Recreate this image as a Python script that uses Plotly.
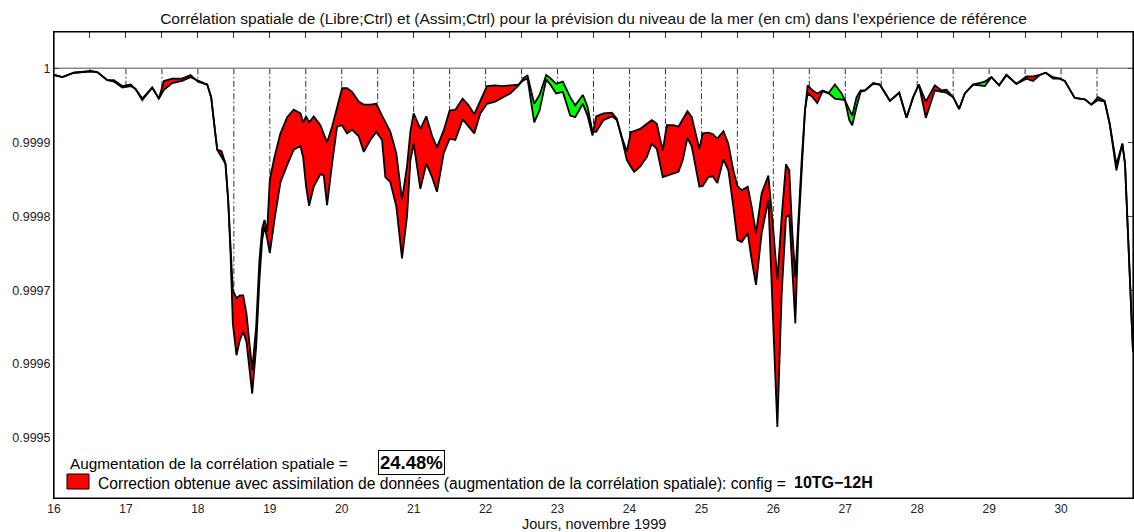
import numpy as np
import plotly.graph_objects as go

# Days of November 1999 (fractional) at which the correlations are sampled
jours = [
    16.000, 16.116, 16.278, 16.509, 16.602, 16.741, 16.833, 16.949, 17.065, 17.134,
    17.227, 17.366, 17.458, 17.528, 17.644, 17.782, 17.898, 18.000, 18.130, 18.185,
    18.231, 18.269, 18.329, 18.384, 18.421, 18.454, 18.486, 18.537, 18.583, 18.630,
    18.676, 18.755, 18.810, 18.856, 18.894, 18.926, 18.963, 19.000, 19.065, 19.148,
    19.241, 19.333, 19.426, 19.463, 19.505, 19.546, 19.611, 19.704, 19.750, 19.796,
    19.866, 19.935, 20.005, 20.074, 20.144, 20.236, 20.306, 20.398, 20.481, 20.560,
    20.606, 20.676, 20.759, 20.838, 20.907, 20.955, 21.000, 21.093, 21.176, 21.255,
    21.324, 21.417, 21.500, 21.579, 21.681, 21.764, 21.843, 21.926, 22.019, 22.134,
    22.227, 22.343, 22.458, 22.528, 22.583, 22.676, 22.750, 22.843, 22.907, 22.981,
    23.074, 23.176, 23.245, 23.352, 23.417, 23.486, 23.537, 23.639, 23.755, 23.824,
    23.894, 23.963, 24.019, 24.065, 24.148, 24.241, 24.310, 24.380, 24.463, 24.519,
    24.611, 24.681, 24.741, 24.806, 24.866, 24.972, 25.019, 25.097, 25.157, 25.222,
    25.306, 25.375, 25.444, 25.500, 25.560, 25.644, 25.699, 25.759, 25.838, 25.931,
    26.000, 26.056, 26.116, 26.176, 26.222, 26.264, 26.306, 26.347, 26.394, 26.440,
    26.477, 26.546, 26.611, 26.685, 26.764, 26.856, 26.949, 26.995, 27.056, 27.097,
    27.157, 27.213, 27.273, 27.389, 27.481, 27.620, 27.750, 27.852, 27.944, 28.023,
    28.120, 28.245, 28.338, 28.407, 28.500, 28.583, 28.662, 28.778, 28.940, 29.032,
    29.139, 29.241, 29.380, 29.519, 29.611, 29.704, 29.787, 29.889, 29.981, 30.051,
    30.190, 30.329, 30.421, 30.514, 30.606, 30.676, 30.769, 30.852, 30.889, 30.944,
    31.000,
]

# Spatial correlation of the free run with the control run (Libre;Ctrl)
corr_libre = [
    0.999991, 0.999988, 0.999994, 0.999996, 0.999995, 0.999984, 0.999982, 0.999974, 0.999976, 0.999972,
    0.999959, 0.999974, 0.999959, 0.999971, 0.999980, 0.999983, 0.999988, 0.999984, 0.999978, 0.999961,
    0.999921, 0.999890, 0.999880, 0.999871, 0.999822, 0.999750, 0.999655, 0.999612, 0.999632, 0.999644,
    0.999630, 0.999560, 0.999623, 0.999714, 0.999768, 0.999786, 0.999770, 0.999750, 0.999795, 0.999846,
    0.999869, 0.999890, 0.999895, 0.999880, 0.999840, 0.999814, 0.999840, 0.999857, 0.999855, 0.999815,
    0.999871, 0.999921, 0.999923, 0.999912, 0.999917, 0.999908, 0.999887, 0.999903, 0.999914, 0.999903,
    0.999853, 0.999846, 0.999813, 0.999743, 0.999799, 0.999876, 0.999898, 0.999837, 0.999871, 0.999853,
    0.999833, 0.999885, 0.999905, 0.999903, 0.999931, 0.999921, 0.999912, 0.999939, 0.999952, 0.999955,
    0.999960, 0.999966, 0.999977, 0.999987, 0.999990, 0.999952, 0.999964, 0.999991, 0.999986, 0.999979,
    0.999982, 0.999961, 0.999950, 0.999964, 0.999948, 0.999914, 0.999914, 0.999930, 0.999935, 0.999930,
    0.999905, 0.999876, 0.999867, 0.999860, 0.999867, 0.999880, 0.999898, 0.999891, 0.999853, 0.999855,
    0.999858, 0.999860, 0.999876, 0.999906, 0.999894, 0.999840, 0.999841, 0.999853, 0.999854, 0.999845,
    0.999877, 0.999862, 0.999813, 0.999768, 0.999765, 0.999777, 0.999741, 0.999707, 0.999777, 0.999822,
    0.999650, 0.999515, 0.999695, 0.999799, 0.999801, 0.999723, 0.999655, 0.999777, 0.999871, 0.999943,
    0.999966, 0.999961, 0.999953, 0.999969, 0.999966, 0.999978, 0.999966, 0.999957, 0.999943, 0.999936,
    0.999961, 0.999970, 0.999970, 0.999980, 0.999978, 0.999956, 0.999967, 0.999933, 0.999961, 0.999978,
    0.999933, 0.999970, 0.999968, 0.999967, 0.999961, 0.999945, 0.999966, 0.999978, 0.999982, 0.999988,
    0.999977, 0.999991, 0.999979, 0.999986, 0.999983, 0.999991, 0.999994, 0.999986, 0.999986, 0.999983,
    0.999960, 0.999958, 0.999951, 0.999957, 0.999955, 0.999925, 0.999862, 0.999898, 0.999871, 0.999736,
    0.999616,
]

# Spatial correlation of the assimilation run with the control run (Assim;Ctrl)
corr_assim = [
    0.999991, 0.999988, 0.999994, 0.999996, 0.999995, 0.999984, 0.999984, 0.999976, 0.999978, 0.999972,
    0.999957, 0.999974, 0.999959, 0.999983, 0.999986, 0.999986, 0.999991, 0.999982, 0.999978, 0.999961,
    0.999921, 0.999890, 0.999888, 0.999871, 0.999822, 0.999750, 0.999700, 0.999689, 0.999693, 0.999693,
    0.999668, 0.999592, 0.999650, 0.999741, 0.999783, 0.999795, 0.999779, 0.999849, 0.999880, 0.999912,
    0.999934, 0.999944, 0.999939, 0.999927, 0.999935, 0.999927, 0.999935, 0.999923, 0.999912, 0.999900,
    0.999921, 0.999948, 0.999973, 0.999973, 0.999968, 0.999955, 0.999951, 0.999951, 0.999952, 0.999936,
    0.999927, 0.999914, 0.999885, 0.999822, 0.999867, 0.999915, 0.999939, 0.999918, 0.999935, 0.999909,
    0.999893, 0.999916, 0.999943, 0.999944, 0.999959, 0.999950, 0.999938, 0.999957, 0.999976, 0.999977,
    0.999976, 0.999977, 0.999978, 0.999984, 0.999986, 0.999927, 0.999943, 0.999985, 0.999977, 0.999966,
    0.999968, 0.999936, 0.999934, 0.999952, 0.999936, 0.999909, 0.999935, 0.999939, 0.999940, 0.999932,
    0.999907, 0.999887, 0.999914, 0.999915, 0.999918, 0.999925, 0.999930, 0.999925, 0.999889, 0.999923,
    0.999923, 0.999921, 0.999932, 0.999942, 0.999934, 0.999891, 0.999912, 0.999913, 0.999911, 0.999905,
    0.999915, 0.999898, 0.999862, 0.999841, 0.999835, 0.999840, 0.999813, 0.999777, 0.999831, 0.999855,
    0.999781, 0.999714, 0.999799, 0.999870, 0.999862, 0.999777, 0.999718, 0.999795, 0.999876, 0.999943,
    0.999977, 0.999970, 0.999966, 0.999970, 0.999967, 0.999959, 0.999958, 0.999957, 0.999930, 0.999923,
    0.999948, 0.999968, 0.999970, 0.999979, 0.999978, 0.999956, 0.999967, 0.999933, 0.999961, 0.999978,
    0.999955, 0.999977, 0.999970, 0.999971, 0.999961, 0.999945, 0.999966, 0.999978, 0.999976, 0.999988,
    0.999977, 0.999991, 0.999979, 0.999989, 0.999989, 0.999991, 0.999994, 0.999988, 0.999986, 0.999983,
    0.999960, 0.999958, 0.999951, 0.999961, 0.999956, 0.999925, 0.999870, 0.999898, 0.999871, 0.999736,
    0.999616,
]

augmentation_pct = 24.48
config_name = "10TG\u221212H"

assert len(jours) == len(corr_libre) == len(corr_assim)

W, H = 1134, 532
ML, MR, MT, MB = 54, 1, 32, 34
X_MIN, X_MAX = 16.0, 31.0
Y_MIN, Y_MAX = 0.9994189, 1.0000491
FONT = "Liberation Sans, Arial, Helvetica, sans-serif"


def paper(px, py):
    """Pixel position on the page -> paper coordinates of the plot area."""
    return (px - ML) / (W - ML - MR), (H - MB - py) / (H - MT - MB)


def split_at_crossings(x, a, b):
    """Insert the points where curve a crosses curve b, so each band closes cleanly."""
    xs, av, bv = [x[0]], [a[0]], [b[0]]
    for i in range(len(x) - 1):
        d0, d1 = a[i] - b[i], a[i + 1] - b[i + 1]
        if d0 * d1 < 0:
            t = d0 / (d0 - d1)
            xc = x[i] + t * (x[i + 1] - x[i])
            yc = a[i] + t * (a[i + 1] - a[i])
            xs.append(xc); av.append(yc); bv.append(yc)
        xs.append(x[i + 1]); av.append(a[i + 1]); bv.append(b[i + 1])
    return np.array(xs), np.array(av), np.array(bv)


x = np.array(jours, dtype=float)
libre = np.array(corr_libre, dtype=float)
assim = np.array(corr_assim, dtype=float)
xs, aa, ll = split_at_crossings(x, assim, libre)
hi = np.maximum(aa, ll)
lo = np.minimum(aa, ll)

fig = go.Figure()

# white area under the lowest curve (hides grid and ticks beneath the data)
fig.add_trace(go.Scatter(
    x=np.concatenate([xs, [X_MAX, X_MIN]]),
    y=np.concatenate([lo, [Y_MIN, Y_MIN]]),
    fill="toself", fillcolor="white", mode="lines", line=dict(width=0),
    hoverinfo="skip", showlegend=False))

# gain from assimilation (Assim above Libre) in red
fig.add_trace(go.Scatter(
    x=np.concatenate([xs, xs[::-1]]),
    y=np.concatenate([hi, ll[::-1]]),
    fill="toself", fillcolor="#ff0000", mode="lines", line=dict(width=0),
    hoverinfo="skip", showlegend=False))

# loss (Assim below Libre) in green
fig.add_trace(go.Scatter(
    x=np.concatenate([xs, xs[::-1]]),
    y=np.concatenate([ll, lo[::-1]]),
    fill="toself", fillcolor="#00ff00", mode="lines", line=dict(width=0),
    hoverinfo="skip", showlegend=False))

for serie in (libre, assim):
    fig.add_trace(go.Scatter(
        x=x, y=serie, mode="lines",
        line=dict(color="black", width=1.8),
        hoverinfo="skip", showlegend=False))

shapes = []
# dash-dot vertical grid every half day
for d in np.arange(16.5, 31.0, 0.5):
    shapes.append(dict(type="line", xref="x", yref="y", x0=d, x1=d, y0=1.0, y1=Y_MIN,
                       line=dict(color="#333333", width=1, dash="6px,2.5px,1.5px,2.5px"),
                       layer="below"))
# reference line at correlation 1
shapes.append(dict(type="line", xref="x", yref="y", x0=X_MIN, x1=X_MAX, y0=1.0, y1=1.0,
                   line=dict(color="#8a8a8a", width=1.5), layer="below"))
# frame
shapes.append(dict(type="rect", xref="paper", yref="paper", x0=0, x1=1, y0=0, y1=1,
                   line=dict(color="black", width=1.2), layer="above"))
# legend swatch
sx0, sy0 = paper(67, 489)
sx1, sy1 = paper(89, 474)
shapes.append(dict(type="rect", xref="paper", yref="paper", x0=sx0, x1=sx1, y0=sy0, y1=sy1,
                   fillcolor="#ff0000", line=dict(color="black", width=1), layer="above"))

annotations = []
ax_, ay_ = paper(68, 463)
annotations.append(dict(xref="paper", yref="paper", x=ax_, y=ay_, xanchor="left", yanchor="middle",
                        text="Augmentation de la corrélation spatiale =", showarrow=False,
                        font=dict(family=FONT, size=15.3, color="black")))
bx, by = paper(411.5, 462)
annotations.append(dict(xref="paper", yref="paper", x=bx, y=by, xanchor="center", yanchor="middle",
                        text=f"<b>{augmentation_pct:.2f}%</b>", showarrow=False,
                        bordercolor="black", borderwidth=1, borderpad=1, bgcolor="white",
                        font=dict(family=FONT, size=18.5, color="black")))
cx, cy = paper(96, 483)
annotations.append(dict(xref="paper", yref="paper", x=cx, y=cy, xanchor="left", yanchor="middle",
                        text="Correction obtenue avec assimilation de données "
                             "(augmentation de la corrélation spatiale): config =",
                        showarrow=False, font=dict(family=FONT, size=15.6, color="black")))
kx, ky = paper(792, 482)
annotations.append(dict(xref="paper", yref="paper", x=kx, y=ky, xanchor="left", yanchor="middle",
                        text=f"<b>{config_name}</b>", showarrow=False,
                        font=dict(family=FONT, size=16, color="black")))
tx, ty = paper(0, 524)
annotations.append(dict(xref="paper", yref="paper", x=0.5, y=ty, xanchor="center", yanchor="middle",
                        text="Jours, novembre 1999", showarrow=False,
                        font=dict(family=FONT, size=14.5, color="#111111")))

x_ticks = [16 + 0.5 * k for k in range(31)]
x_labels = [str(int(v)) if v == int(v) else "" for v in x_ticks]
y_ticks = [0.9995, 0.9996, 0.9997, 0.9998, 0.9999, 1.0]
y_labels = ["0.9995", "0.9996", "0.9997", "0.9998", "0.9999", "1"]

fig.update_layout(
    width=W, height=H,
    margin=dict(l=ML, r=MR, t=MT, b=MB),
    paper_bgcolor="white", plot_bgcolor="white",
    showlegend=False,
    title=dict(
        text="Corrélation spatiale de (Libre;Ctrl) et (Assim;Ctrl) pour la prévision du niveau "
             "de la mer (en cm) dans l\u2019expérience de référence",
        x=0.5, xref="paper", xanchor="center", y=1 - 19 / H, yref="container", yanchor="middle",
        font=dict(family=FONT, size=15.5, color="#111111")),
    xaxis=dict(range=[X_MIN, X_MAX], tickvals=x_ticks, ticktext=x_labels,
               ticks="inside", ticklen=6, tickcolor="#333333", mirror="ticks",
               showline=True, linecolor="black", showgrid=False, zeroline=False,
               layer="below traces", tickfont=dict(family=FONT, size=12, color="#222222")),
    yaxis=dict(range=[Y_MIN, Y_MAX], tickvals=y_ticks, ticktext=y_labels,
               ticks="inside", ticklen=5, tickcolor="#444444", mirror="ticks",
               showline=True, linecolor="black", showgrid=False, zeroline=False,
               layer="below traces", tickfont=dict(family=FONT, size=12.5, color="#222222")),
    shapes=shapes,
    annotations=annotations,
)

fig.write_html("out.html")
